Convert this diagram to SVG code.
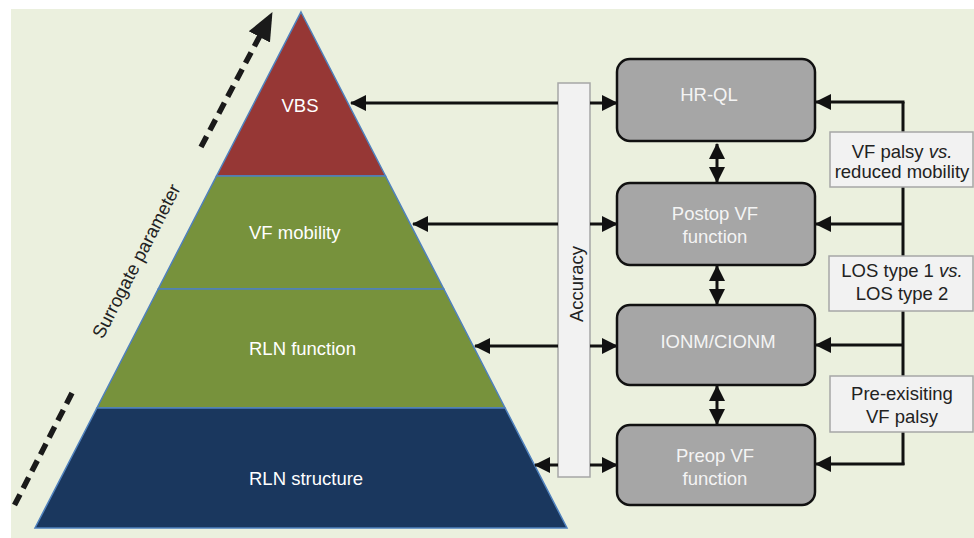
<svg xmlns="http://www.w3.org/2000/svg" width="974" height="538" viewBox="0 0 974 538">
<defs>
<style>
.layer{stroke:#4F81BD;stroke-width:1.5}
.lt{font-family:"Liberation Sans",Arial,sans-serif;font-size:18.5px;fill:#FFFFFF}
.bt{font-family:"Liberation Sans",Arial,sans-serif;font-size:18.5px;fill:#F4F4F4;text-anchor:middle}
.kt{font-family:"Liberation Sans",Arial,sans-serif;font-size:18.5px;fill:#222222;text-anchor:middle}
.box{fill:#A6A6A6;stroke:#111111;stroke-width:2.5}
.lbl{fill:#F2F2F2;stroke:#A6A6A6;stroke-width:1.5}
.con{stroke:#111111;stroke-width:3;fill:none}
.dash{stroke:#1A1A1A;stroke-width:5.5;fill:none;stroke-dasharray:12 7}
</style>
<marker id="ah" markerUnits="userSpaceOnUse" markerWidth="16" markerHeight="18" refX="15" refY="9" orient="auto-start-reverse">
<path d="M0,1 L16,9 L0,17 z" fill="#111111"/>
</marker>
<marker id="dh" markerUnits="userSpaceOnUse" markerWidth="28" markerHeight="26" refX="27" refY="13" orient="auto">
<path d="M0,1 L28,13 L0,25 z" fill="#1A1A1A"/>
</marker>
</defs>
<rect x="11" y="9" width="963" height="529" fill="#EBF0DE"/>

<g id="pyramid">
<g id="vbs">
<polygon class="layer" points="301,12 385.5,176 216.5,176" fill="#963735"/>
<text class="lt" x="300" y="112" text-anchor="middle">VBS</text>
</g>
<g id="vf-mobility">
<polygon class="layer" points="216.5,176 385.5,176 443.8,289 158.2,289" fill="#77923C"/>
<text class="lt" x="249" y="239">VF mobility</text>
</g>
<g id="rln-function">
<polygon class="layer" points="158.2,289 443.8,289 505.1,408 96.9,408" fill="#77923C"/>
<text class="lt" x="249" y="355">RLN function</text>
</g>
<g id="rln-structure">
<polygon class="layer" points="96.9,408 505.1,408 567,528 35,528" fill="#1A375E"/>
<text class="lt" x="249" y="485">RLN structure</text>
</g>
</g>

<g id="surrogate">
<line class="dash" x1="201" y1="147" x2="272" y2="13" marker-end="url(#dh)"/>
<line class="dash" x1="72" y1="393" x2="12" y2="510"/>
<text x="142" y="264" transform="rotate(-62.7 142 264)" text-anchor="middle" font-family="Liberation Sans, Arial, sans-serif" font-size="18.5" fill="#222222">Surrogate parameter</text>
</g>

<g id="accuracy">
<rect class="lbl" x="558" y="83" width="32" height="394"/>
<text class="kt" x="583" y="284" transform="rotate(-90 583 284)">Accuracy</text>
</g>

<g id="connectors">
<line class="con" x1="558" y1="103" x2="351" y2="103" marker-end="url(#ah)"/>
<line class="con" x1="590" y1="103" x2="617" y2="103" marker-end="url(#ah)"/>
<line class="con" x1="558" y1="224" x2="413" y2="224" marker-end="url(#ah)"/>
<line class="con" x1="590" y1="224" x2="617" y2="224" marker-end="url(#ah)"/>
<line class="con" x1="558" y1="346" x2="475" y2="346" marker-end="url(#ah)"/>
<line class="con" x1="590" y1="346" x2="617" y2="346" marker-end="url(#ah)"/>
<line class="con" x1="558" y1="465" x2="535" y2="465" marker-end="url(#ah)"/>
<line class="con" x1="590" y1="465" x2="617" y2="465" marker-end="url(#ah)"/>
<line class="con" x1="717" y1="144" x2="717" y2="182" marker-start="url(#ah)" marker-end="url(#ah)"/>
<line class="con" x1="717" y1="266" x2="717" y2="304" marker-start="url(#ah)" marker-end="url(#ah)"/>
<line class="con" x1="717" y1="386" x2="717" y2="424" marker-start="url(#ah)" marker-end="url(#ah)"/>
<path class="con" d="M903,102 L903,465"/>
<line class="con" x1="904.5" y1="102" x2="816" y2="102" marker-end="url(#ah)"/>
<line class="con" x1="903" y1="224" x2="816" y2="224" marker-end="url(#ah)"/>
<line class="con" x1="903" y1="345" x2="816" y2="345" marker-end="url(#ah)"/>
<line class="con" x1="904.5" y1="464" x2="816" y2="464" marker-end="url(#ah)"/>
</g>

<g id="hr-ql">
<rect class="box" x="617" y="59" width="198" height="82" rx="13"/>
<text class="bt" x="709" y="101">HR-QL</text>
</g>
<g id="postop">
<rect class="box" x="617" y="183" width="198" height="82" rx="13"/>
<text class="bt" x="715" y="220">Postop VF</text>
<text class="bt" x="715" y="243">function</text>
</g>
<g id="ionm">
<rect class="box" x="617" y="305" width="198" height="80" rx="13"/>
<text class="bt" x="718" y="348">IONM/CIONM</text>
</g>
<g id="preop">
<rect class="box" x="617" y="425" width="198" height="80" rx="13"/>
<text class="bt" x="715" y="462">Preop VF</text>
<text class="bt" x="715" y="485">function</text>
</g>

<g id="label-vf-palsy">
<rect class="lbl" x="830" y="132" width="143" height="55"/>
<text class="kt" x="902" y="158">VF palsy <tspan font-style="italic">vs.</tspan></text>
<text class="kt" x="902" y="178">reduced mobility</text>
</g>
<g id="label-los">
<rect class="lbl" x="829" y="256" width="144" height="55"/>
<text class="kt" x="902" y="277">LOS type 1 <tspan font-style="italic">vs.</tspan></text>
<text class="kt" x="902" y="300">LOS type 2</text>
</g>
<g id="label-preexisting">
<rect class="lbl" x="830" y="376" width="143" height="56"/>
<text class="kt" x="902" y="400">Pre-exisiting</text>
<text class="kt" x="902" y="423">VF palsy</text>
</g>
</svg>
